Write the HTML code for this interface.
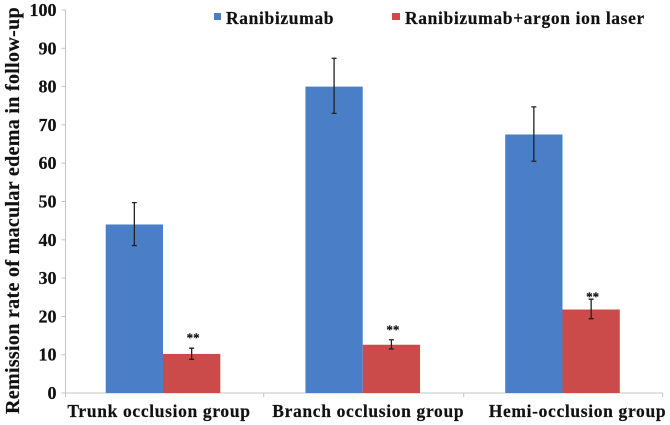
<!DOCTYPE html>
<html>
<head>
<meta charset="utf-8">
<style>
html,body{margin:0;padding:0;background:#fff;width:670px;height:425px;overflow:hidden}
svg{display:block;font-family:"Liberation Serif",serif;font-weight:bold;fill:#111}
text{stroke:#111;stroke-width:0.2}
</style>
</head>
<body>
<svg id="chart" width="670" height="425" viewBox="0 0 670 425" xmlns="http://www.w3.org/2000/svg">
<text transform="translate(19,210.5) rotate(-90)" text-anchor="middle" font-size="20" letter-spacing="0.32">Remission rate of macular edema in follow-up</text>
<rect x="214" y="13" width="7" height="7" fill="#4a7fc8"/>
<text x="226" y="24" font-size="17.5" letter-spacing="0.63">Ranibizumab</text>
<rect x="392" y="13" width="8" height="7" fill="#cb4b4b"/>
<text x="405" y="24" font-size="17.5" letter-spacing="0.63">Ranibizumab+argon ion laser</text>
</svg>
<script>
var categories = ['Trunk occlusion group', 'Branch occlusion group', 'Hemi-occlusion group'];
var ranibizumabValues = [44, 80, 67.5];
var ranibizumabLow = [38.5, 73, 60.5];
var ranibizumabHigh = [49.7, 87.4, 74.7];
var laserValues = [10.2, 12.6, 21.8];
var laserLow = [8.8, 11.5, 19.4];
var laserHigh = [11.7, 13.9, 24.5];
var significanceLevels = [14.9, 17, 25.6];
var yTicks = [0, 10, 20, 30, 40, 50, 60, 70, 80, 90, 100];

var NS = 'http://www.w3.org/2000/svg';
var svg = document.getElementById('chart');
var LEFT = 65.5, STEP = 199, BAR = 57.3, BOTTOM = 393, TOP = 10;
function y(v) { return BOTTOM - v * (BOTTOM - TOP) / 100; }
function groupCenter(i) { return 163 + 199.75 * i; }
function labelCenter(i) { return 159 + 209.25 * i; }
function add(tag, attrs, name) {
  var el = document.createElementNS(NS, tag);
  for (var k in attrs) el.setAttribute(k, attrs[k]);
  
  
  svg.appendChild(el);
  return el;
}
function errorBar(cx, lo, hi, name) {
  add('path', {
    d: 'M' + cx + ' ' + y(hi) + 'V' + y(lo) + 'M' + (cx - 2.5) + ' ' + y(hi) + 'h5M' + (cx - 2.5) + ' ' + y(lo) + 'h5',
    stroke: '#222', 'stroke-width': 1.3, fill: 'none'
  }, name);
}
add('path', { d: 'M' + LEFT + ' ' + TOP + 'V' + BOTTOM + 'H' + 662.7, stroke: '#c4c4c4', 'stroke-width': 1, fill: 'none' }, 'axis-lines');
yTicks.forEach(function (t) {
  add('line', { x1: LEFT - 4, x2: LEFT, y1: y(t), y2: y(t), stroke: '#c4c4c4', 'stroke-width': 1 }, 'y-tick-' + t);
  var lab = add('text', { x: 56.5, y: y(t) + 6, 'text-anchor': 'end', 'font-size': 18 }, 'y-tick-label-' + t);
  lab.textContent = t;
});
for (var j = 0; j <= categories.length; j++) {
  var tx = j === 0 ? LEFT : 662.7 - STEP * (categories.length - j) - (j === 1 ? 1 : 0);
  add('line', { x1: tx, x2: tx, y1: BOTTOM, y2: BOTTOM + 4, stroke: '#c4c4c4', 'stroke-width': 1 }, 'x-tick-' + j);
}
categories.forEach(function (c, i) {
  var cx = groupCenter(i);
  add('rect', { x: cx - BAR, y: y(ranibizumabValues[i]), width: BAR, height: BOTTOM - y(ranibizumabValues[i]), fill: '#4a7fc8' }, 'bar-ranibizumab-' + (i + 1));
  add('rect', { x: cx, y: y(laserValues[i]), width: BAR, height: BOTTOM - y(laserValues[i]), fill: '#cb4b4b' }, 'bar-combination-' + (i + 1));
  errorBar(cx - BAR / 2, ranibizumabLow[i], ranibizumabHigh[i], 'error-bar-ranibizumab-' + (i + 1));
  errorBar(cx + BAR / 2, laserLow[i], laserHigh[i], 'error-bar-combination-' + (i + 1));
  var star = add('text', { x: cx + BAR / 2 + 1.5, y: y(significanceLevels[i]) + 6, 'text-anchor': 'middle', 'font-size': 13 }, 'significance-marker-' + (i + 1));
  star.textContent = '**';
  var lab = add('text', { x: labelCenter(i), y: 417, 'text-anchor': 'middle', 'font-size': 17.5, 'letter-spacing': 0.65 }, 'category-label-' + (i + 1));
  lab.textContent = c;
});
</script>
</body>
</html>
